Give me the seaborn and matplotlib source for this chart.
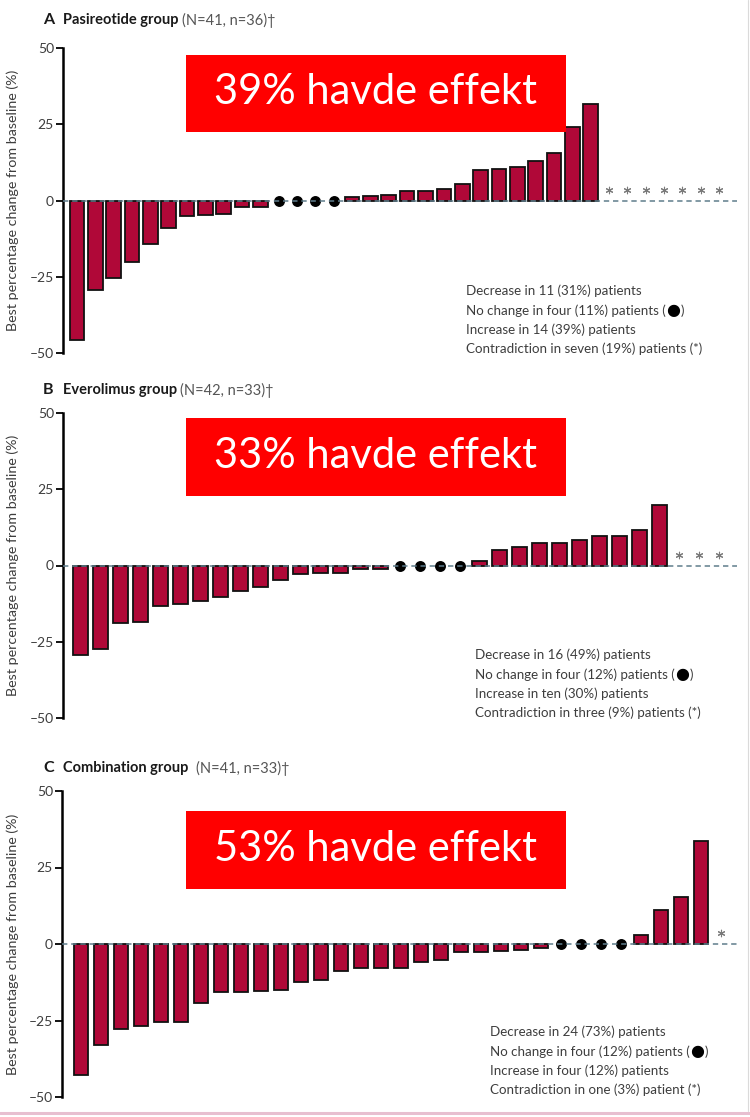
import numpy as np
import pandas as pd
import matplotlib
matplotlib.use("Agg")
import matplotlib.pyplot as plt
import seaborn as sns
from matplotlib.patches import Rectangle
from matplotlib.lines import Line2D

# ---- data: best percentage change from baseline, sorted per group ----
pas_decrease = [-45.9, -29.3, -25.4, -20.1, -14.3, -9.1, -5.2, -4.7, -4.3, -2.0, -2.0]
pas_no_change = 4
pas_increase = [1.0, 1.5, 1.8, 3.0, 3.0, 3.8, 5.4, 10.0, 10.3, 11.0, 13.0, 15.6, 24.1, 31.8]
pas_contradiction = 7

eve_decrease = [-29.5, -27.5, -19.0, -18.5, -13.3, -12.5, -11.5, -10.4, -8.2, -7.2,
                -4.9, -2.8, -2.3, -2.3, -1.2, -1.2]
eve_no_change = 4
eve_increase = [1.4, 5.0, 6.0, 7.4, 7.5, 8.5, 9.7, 9.7, 11.5, 19.8]
eve_contradiction = 3

comb_decrease = [-42.7, -33.1, -27.9, -26.7, -25.4, -25.4, -19.4, -15.7, -15.7, -15.2,
                 -15.1, -12.4, -11.8, -8.9, -7.9, -7.7, -7.7, -6.0, -5.2, -2.5,
                 -2.5, -2.4, -2.1, -1.3]
comb_no_change = 4
comb_increase = [3.0, 11.0, 15.3, 33.8]
comb_contradiction = 1

panel_letters = ["A", "B", "C"]
group_names = ["Pasireotide group", "Everolimus group", "Combination group"]
group_counts = ["(N=41, n=36)\u2020", "(N=42, n=33)\u2020", "(N=41, n=33)\u2020"]
effect_labels = ["39% havde effekt", "33% havde effekt", "53% havde effekt"]
summary_lines = [
    ["Decrease in 11 (31%) patients",
     "No change in four (11%) patients (\u25CF)",
     "Increase in 14 (39%) patients",
     "Contradiction in seven (19%) patients (*)"],
    ["Decrease in 16 (49%) patients",
     "No change in four (12%) patients (\u25CF)",
     "Increase in ten (30%) patients",
     "Contradiction in three (9%) patients (*)"],
    ["Decrease in 24 (73%) patients",
     "No change in four (12%) patients (\u25CF)",
     "Increase in four (12%) patients",
     "Contradiction in one (3%) patient (*)"],
]
y_ticks = [-50, -25, 0, 25, 50]
y_label = "Best percentage change from baseline (%)"

groups = [
    (pas_decrease, pas_no_change, pas_increase, pas_contradiction),
    (eve_decrease, eve_no_change, eve_increase, eve_contradiction),
    (comb_decrease, comb_no_change, comb_increase, comb_contradiction),
]


def build_frame(decrease, no_change, increase, contradiction):
    status = (["bar"] * len(decrease) + ["none"] * no_change
              + ["bar"] * len(increase) + ["contra"] * contradiction)
    values = list(decrease) + [0.0] * no_change + list(increase) + [np.nan] * contradiction
    return pd.DataFrame({"pos": np.arange(len(values)), "value": values, "status": status})


# ---- style ----
sns.set_style("ticks")
plt.rcParams["font.family"] = ["Lato", "DejaVu Sans"]
plt.rcParams["axes.unicode_minus"] = True

W, H = 750, 1117
fig = plt.figure(figsize=(W / 100, H / 100), dpi=100)
fig.patch.set_facecolor("white")
renderer = fig.canvas.get_renderer()


def fx(x):
    return x / W


def fy(y):
    return 1 - y / H


def draw_runs(x_px, y_px, runs):
    """Place consecutive text pieces on one line, each starting where the last ended."""
    x = x_px
    for text, gap, kw in runs:
        x += gap
        t = fig.text(fx(x), fy(y_px), text, ha="left", va="center", **kw)
        x = t.get_window_extent(renderer).x1


BAR_COLOR = "#B00838"
TEXT_GREY = "#3d3d3d"
ZERO_LINE = "#5f7d8c"

# pixel layout per panel
layout = [
    dict(box=(63, 48, 737, 353), xlim=(-0.76, 35.98), width=0.8, title_y=20,
         red=(186, 55, 566, 132), sum_x=466, sum_y=291, count_gap=3),
    dict(box=(63, 413, 737, 718), xlim=(-0.9, 32.9), width=0.75, title_y=390,
         red=(186, 418, 566, 496), sum_x=475, sum_y=655, count_gap=3),
    dict(box=(62, 791, 737, 1097), xlim=(-0.95, 32.8), width=0.72, title_y=768,
         red=(186, 811, 566, 889), sum_x=490, sum_y=1032, count_gap=8),
]

for i, (grp, lay) in enumerate(zip(groups, layout)):
    df = build_frame(*grp)
    x0, y0, x1, y1 = lay["box"]
    ax = fig.add_axes([fx(x0), fy(y1), fx(x1) - fx(x0), (y1 - y0) / H])
    ax.set_facecolor("none")

    bars = df[df["status"] == "bar"]
    sns.barplot(data=bars, x="pos", y="value", native_scale=True, ax=ax,
                color=BAR_COLOR, saturation=1, width=lay["width"],
                edgecolor="#111111", linewidth=1.3, zorder=2)

    flat = df[df["status"] == "none"]
    sns.scatterplot(data=flat, x="pos", y="value", ax=ax, color="black",
                    s=62, marker="o", linewidth=0, zorder=3, legend=False)

    contra = df[df["status"] == "contra"].assign(mark=3.6)
    sns.scatterplot(data=contra, x="pos", y="mark", ax=ax, color="#7a7a7a",
                    marker=(6, 2, 0), s=22, linewidth=0.8, zorder=4, legend=False)

    ax.axhline(0, color=ZERO_LINE, lw=1.1, ls=(0, (3.5, 2.5)), zorder=5)

    ax.set_xlim(*lay["xlim"])
    ax.set_ylim(-50, 50)
    ax.set_yticks(y_ticks)
    ax.set_yticklabels([str(t).replace("-", "\u2013") for t in y_ticks])
    ax.set_xticks([])
    ax.set_xlabel("")
    ax.set_ylabel(y_label, fontsize=10.3, color=TEXT_GREY, va="center")
    ax.yaxis.set_label_coords((13 - x0) / (x1 - x0), 0.5)
    for side in ["top", "right", "bottom"]:
        ax.spines[side].set_visible(False)
    ax.spines["left"].set_linewidth(1.8)
    ax.spines["left"].set_color("black")
    ax.spines["left"].set_bounds(-50, 50)
    ax.tick_params(axis="y", direction="out", length=5, width=1.3, pad=1.5,
                   labelsize=10, labelcolor=TEXT_GREY, color="black")

    # panel title
    fig.text(fx(43), fy(lay["title_y"]), panel_letters[i], fontsize=11.5,
             fontweight="bold", color="#1a1a1a", va="center", ha="left")
    draw_runs(63, lay["title_y"], [
        (group_names[i], 0, dict(fontsize=10.5, fontweight="bold", color="#1a1a1a")),
        (group_counts[i], lay["count_gap"], dict(fontsize=10.5, color="#555555")),
    ])

    # red highlight box
    rx0, ry0, rx1, ry1 = lay["red"]
    fig.add_artist(Rectangle((fx(rx0), fy(ry1)), fx(rx1) - fx(rx0), (ry1 - ry0) / H,
                             transform=fig.transFigure, facecolor="#FF0000",
                             edgecolor="none", zorder=10))
    fig.text(fx((rx0 + rx1) / 2), fy((ry0 + ry1) / 2 - 1), effect_labels[i],
             fontsize=30, color="white", ha="center", va="center", zorder=11)

    # summary block
    body = dict(fontsize=9.6, color=TEXT_GREY)
    for k, line in enumerate(summary_lines[i]):
        ly = lay["sum_y"] + k * 19.3
        if "\u25CF" in line:
            head, tail = line.split("\u25CF")
            draw_runs(lay["sum_x"], ly, [
                (head, 0, body),
                ("\u25CF", 0.5, dict(fontsize=11.5, color="black", family=["DejaVu Sans"])),
                (tail, 0.5, body),
            ])
        else:
            fig.text(fx(lay["sum_x"]), fy(ly), line, ha="left", va="center", **body)

# page edges
fig.add_artist(Line2D([0, 1], [fy(1112.5), fy(1112.5)], transform=fig.transFigure,
                      color="#E8BFD0", lw=2.2))
fig.add_artist(Line2D([fx(747.5), fx(747.5)], [fy(1111), 1], transform=fig.transFigure,
                      color="#DADADA", lw=0.8))

fig.savefig("out.png", dpi=100, facecolor="white")
